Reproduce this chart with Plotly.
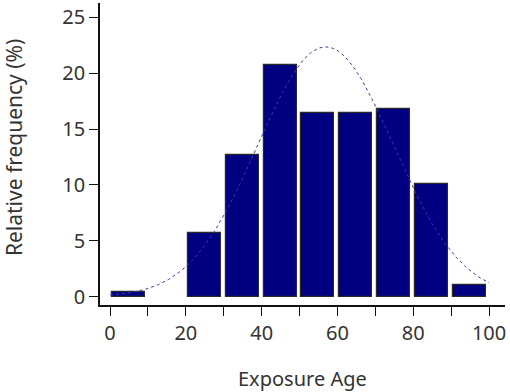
import numpy as np
import plotly.graph_objects as go

# Histogram data (bin left edges, relative frequency in %)
bin_left = [0, 10, 20, 30, 40, 50, 60, 70, 80, 90]
rel_freq = [0.45, 0.0, 5.73, 12.71, 20.74, 16.42, 16.42, 16.78, 10.09, 1.05]
bin_width = 10

x_tickvals = [0, 10, 20, 30, 40, 50, 60, 70, 80, 90, 100]
x_ticktext = ["0", "", "20", "", "40", "", "60", "", "80", "", "100"]
y_tickvals = [0, 5, 10, 15, 20, 25]

# Fitted normal curve from the histogram's mean and sd
centers = np.array(bin_left) + bin_width / 2
w = np.array(rel_freq)
mu = float(np.sum(centers * w) / np.sum(w))
sd = float(np.sqrt(np.sum(w * (centers - mu) ** 2) / np.sum(w)))
xc = np.linspace(0, 100, 300)
yc = np.sum(w) * bin_width / (sd * np.sqrt(2 * np.pi)) * np.exp(-(xc - mu) ** 2 / (2 * sd ** 2))

# empty bins are not drawn
bar_y = [v if v > 0 else None for v in rel_freq]

font = dict(family="Noto Sans, Open Sans, sans-serif", size=20, color="#333333")
ytitle_font = dict(family="Noto Sans, Open Sans, sans-serif", size=21, color="#333333")

fig = go.Figure()
fig.add_trace(go.Bar(
    x=bin_left, y=bar_y, offset=0.5, width=8.7,
    marker=dict(color="#000080", line=dict(color="#2a2a2a", width=1.2)),
    showlegend=False, hoverinfo="skip",
))
fig.add_trace(go.Scatter(
    x=xc, y=yc, mode="lines",
    line=dict(color="#3a3ab0", width=1, dash="dot"),
    showlegend=False, hoverinfo="skip",
))

fig.update_layout(
    width=510, height=392,
    margin=dict(l=100, r=5, t=3, b=87),
    paper_bgcolor="white", plot_bgcolor="white",
    font=font,
    bargap=0,
    xaxis=dict(
        range=[-2.64, 104.2], tickvals=x_tickvals, ticktext=x_ticktext,
        showgrid=False, zeroline=False, showline=True, linecolor="#111111", linewidth=1.5,
        ticks="outside", ticklen=9, tickwidth=1.3, tickcolor="#111111",
        tickfont=font, automargin=False,
    ),
    yaxis=dict(
        range=[-0.75, 26.29], tickvals=y_tickvals,
        showgrid=False, zeroline=False, showline=True, linecolor="#111111", linewidth=1.5,
        ticks="outside", ticklen=9, tickwidth=1.3, tickcolor="#111111",
        tickfont=font, automargin=False,
    ),
    annotations=[
        dict(text="Exposure Age", xref="paper", yref="paper", x=0.5, y=-0.242,
             xanchor="center", yanchor="middle", showarrow=False, font=font),
        dict(text="Relative frequency (%)", xref="paper", yref="paper", x=-0.212, y=0.52,
             xanchor="center", yanchor="middle", textangle=-90, showarrow=False, font=ytitle_font),
    ],
)

fig.write_html("out.html", config={"displayModeBar": False},
               post_script="document.body.style.margin='0';")
